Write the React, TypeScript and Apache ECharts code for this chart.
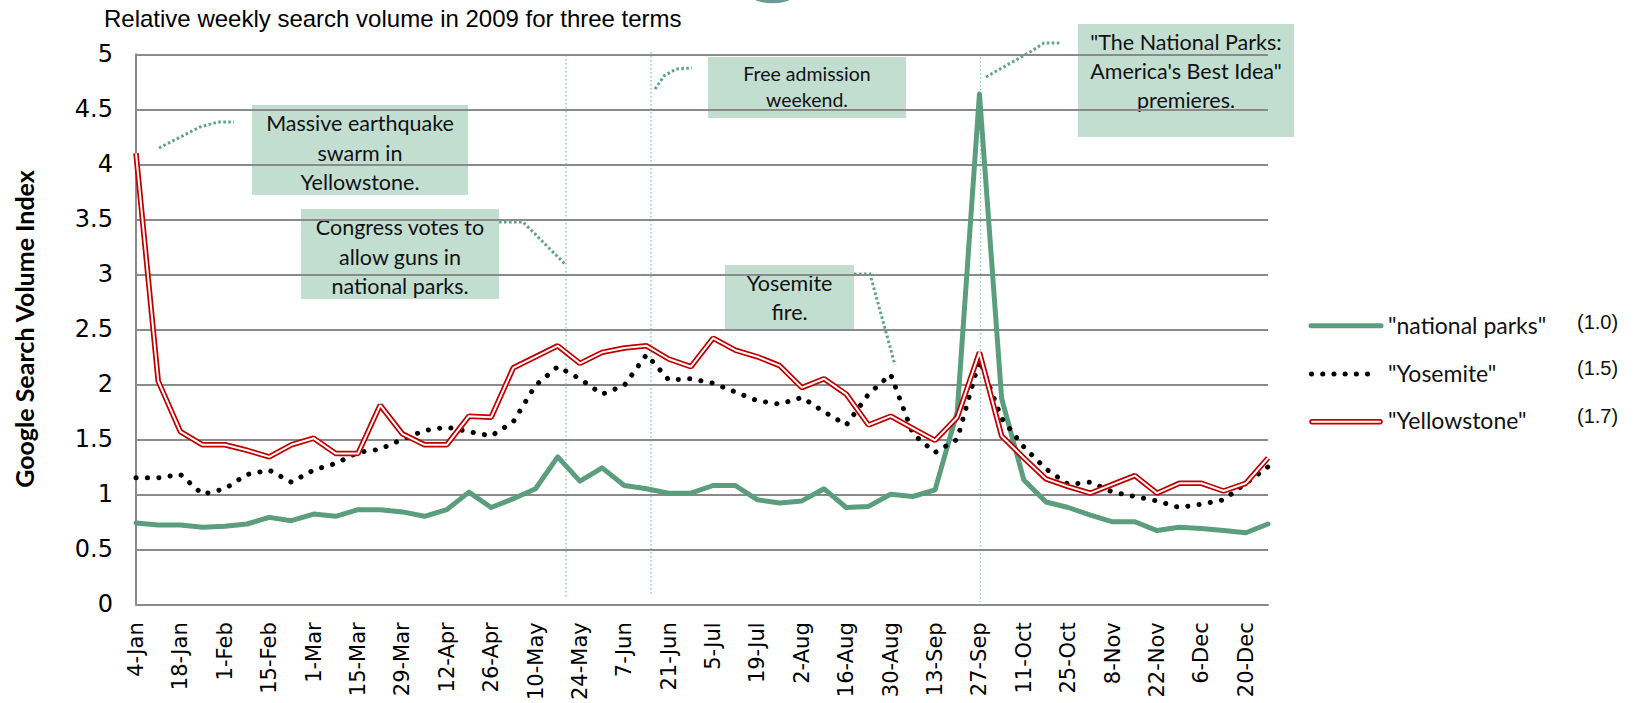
import React, { useEffect, useRef } from "react";
import * as echarts from "echarts";

const weeks = [
  "4-Jan", "11-Jan", "18-Jan", "25-Jan", "1-Feb", "8-Feb", "15-Feb", "22-Feb",
  "1-Mar", "8-Mar", "15-Mar", "22-Mar", "29-Mar", "5-Apr", "12-Apr", "19-Apr", "26-Apr",
  "3-May", "10-May", "17-May", "24-May", "31-May", "7-Jun", "14-Jun", "21-Jun", "28-Jun",
  "5-Jul", "12-Jul", "19-Jul", "26-Jul", "2-Aug", "9-Aug", "16-Aug", "23-Aug", "30-Aug",
  "6-Sep", "13-Sep", "20-Sep", "27-Sep", "4-Oct", "11-Oct", "18-Oct", "25-Oct",
  "1-Nov", "8-Nov", "15-Nov", "22-Nov", "29-Nov", "6-Dec", "13-Dec", "20-Dec", "27-Dec",
];

const nationalParks = [
  0.74, 0.72, 0.72, 0.70, 0.71, 0.73, 0.79, 0.76, 0.82, 0.80,
  0.86, 0.86, 0.84, 0.80, 0.86, 1.02, 0.88, 0.96, 1.05, 1.34,
  1.12, 1.24, 1.08, 1.05, 1.01, 1.01, 1.08, 1.08, 0.95, 0.92,
  0.94, 1.05, 0.88, 0.89, 1.00, 0.98, 1.04, 1.75, 4.64, 1.87,
  1.13, 0.93, 0.88, 0.81, 0.75, 0.75, 0.67, 0.70, 0.69, 0.67,
  0.65, 0.73,
];

const yosemite = [
  1.15, 1.15, 1.18, 1.00, 1.05, 1.18, 1.22, 1.11, 1.22, 1.28,
  1.38, 1.41, 1.50, 1.58, 1.61, 1.57, 1.53, 1.66, 1.99, 2.16,
  2.05, 1.91, 1.99, 2.27, 2.04, 2.05, 2.01, 1.93, 1.85, 1.82,
  1.88, 1.75, 1.63, 1.91, 2.09, 1.55, 1.38, 1.50, 2.22, 1.69,
  1.43, 1.23, 1.09, 1.11, 1.02, 0.98, 0.94, 0.88, 0.91, 0.95,
  1.10, 1.25,
];

const yellowstone = [
  4.10, 2.03, 1.57, 1.45, 1.45, 1.40, 1.34, 1.45, 1.51, 1.37,
  1.37, 1.81, 1.55, 1.45, 1.45, 1.71, 1.70, 2.15, 2.25, 2.35,
  2.19, 2.29, 2.33, 2.35, 2.23, 2.16, 2.42, 2.31, 2.25, 2.17,
  1.97, 2.05, 1.91, 1.63, 1.71, 1.60, 1.49, 1.70, 2.29, 1.53,
  1.33, 1.14, 1.07, 1.01, 1.09, 1.17, 1.01, 1.10, 1.10, 1.03,
  1.10, 1.33,
];

const seriesNames = ['"national parks"', '"Yosemite"', '"Yellowstone"'];
const seriesScales = ["(1.0)", "(1.5)", "(1.7)"];

const titleText = "Relative weekly search volume in 2009 for three terms";
const yAxisTitle = "Google Search Volume Index";

const GREEN = "#5b9e7e";
const RED = "#c00000";
const BOX = "rgba(178,214,196,0.8)";
const LEADER = "#5fa585";
const VLINE = "#93c9b3";
const GRID = "#8a8a8a";

const notes = [
  { lines: ["Massive earthquake", "swarm in", "Yellowstone."], box: [252, 105, 216, 90], cx: 360, cy: 152.5, lh: 29.5, fs: 21.5,
    leader: [[159, 148], [200, 127], [218, 122], [234, 122]] },
  { lines: ["Congress votes to", "allow guns in", "national parks."], box: [301, 209, 198, 90], cx: 400, cy: 256.5, lh: 29.5, fs: 21.5,
    leader: [[499, 222], [523, 222], [566, 265]] },
  { lines: ["Free admission", "weekend."], box: [708, 57, 198, 61], cx: 807, cy: 86, lh: 26, fs: 19.5,
    leader: [[655, 89], [664, 76], [676, 69], [692, 68]] },
  { lines: ['"The National Parks:', "America's Best Idea\"", "premieres."], box: [1078, 24, 216, 113], cx: 1186, cy: 71, lh: 29, fs: 21.5,
    leader: [[986, 77], [1030, 52], [1044, 43], [1060, 43]] },
  { lines: ["Yosemite", "fire."], box: [725, 265, 129, 64], cx: 789.5, cy: 297.5, lh: 29, fs: 21.5,
    leader: [[854, 274], [870, 274], [895, 365]] },
];

const vlines = [
  [566, 55, 598],
  [651, 52, 594],
  [980.5, 57, 602],
];

function buildGraphics() {
  const g: any[] = [];
  g.push({ type: "circle", shape: { cx: 772.5, cy: -44.7, r: 48 }, style: { fill: "#6b9b95" } });
  g.push({
    type: "text", x: 104, y: 18,
    style: { text: titleText, fill: "#000", fontFamily: "Liberation Sans", fontSize: 24, align: "left", verticalAlign: "middle" },
  });
  g.push({
    type: "text", x: 24, y: 329, rotation: Math.PI / 2,
    style: { text: yAxisTitle, fill: "#000", fontFamily: "Lato", fontWeight: "bold", fontSize: 25, align: "center", verticalAlign: "middle" },
  });
  vlines.forEach(([x, y1, y2]) => {
    g.push({ type: "line", shape: { x1: x, y1, x2: x, y2 }, style: { stroke: VLINE, lineWidth: 1.5, lineDash: [1.5, 2.5] } });
  });
  notes.forEach((n) => {
    g.push({ type: "rect", z: -1, shape: { x: n.box[0], y: n.box[1], width: n.box[2], height: n.box[3] }, style: { fill: BOX } });
    g.push({
      type: "text", x: n.cx, y: n.cy,
      style: { text: n.lines.join("\n"), fill: "#111", fontFamily: "Lato", fontSize: n.fs, lineHeight: n.lh, align: "center", verticalAlign: "middle" },
    });
    g.push({ type: "polyline", shape: { points: n.leader }, style: { stroke: LEADER, lineWidth: 3, lineDash: [2.6, 2.4], fill: null } });
  });
  // legend
  const ly = [325.7, 374, 421.7];
  const ty = [325, 373, 420];
  const sy = [321.7, 368, 416];
  g.push({ type: "line", shape: { x1: 1311, y1: ly[0], x2: 1381, y2: ly[0] }, style: { stroke: GREEN, lineWidth: 5, lineCap: "round" } });
  g.push({ type: "line", shape: { x1: 1311.5, y1: ly[1], x2: 1368.5, y2: ly[1] }, style: { stroke: "#000", lineWidth: 5, lineCap: "round", lineDash: [0.1, 11.1] } });
  g.push({ type: "line", shape: { x1: 1312, y1: ly[2], x2: 1380, y2: ly[2] }, style: { stroke: RED, lineWidth: 5.5, lineCap: "round" } });
  g.push({ type: "line", shape: { x1: 1312, y1: ly[2], x2: 1380, y2: ly[2] }, style: { stroke: "#fff", lineWidth: 2, lineCap: "round" } });
  seriesNames.forEach((name, i) => {
    g.push({ type: "text", x: 1388, y: ty[i], style: { text: name, fill: "#111", fontFamily: "Lato", fontSize: 23, align: "left", verticalAlign: "middle" } });
    g.push({ type: "text", x: 1577, y: sy[i], style: { text: seriesScales[i], fill: "#111", fontFamily: "Liberation Sans", fontSize: 20, align: "left", verticalAlign: "middle" } });
  });
  return g;
}

export default function App() {
  const ref = useRef<HTMLDivElement>(null);
  useEffect(() => {
    document.body.style.margin = "0";
    const chart = echarts.init(ref.current!, undefined, { renderer: "svg" });
    chart.setOption({
      animation: false,
      backgroundColor: "#fff",
      grid: { left: 136, right: 369, top: 54.3, bottom: 98.7, containLabel: false },
      xAxis: {
        type: "category",
        data: weeks,
        boundaryGap: false,
        axisLine: { show: true, lineStyle: { color: GRID, width: 2 } },
        axisTick: { show: false },
        splitLine: { show: false },
        axisLabel: { interval: 1, rotate: 90, fontFamily: "DejaVu Sans", fontSize: 21, color: "#000", margin: 18 },
      },
      yAxis: {
        type: "value",
        min: 0,
        max: 5,
        interval: 0.5,
        axisLine: { show: true, lineStyle: { color: GRID, width: 2 } },
        axisTick: { show: false },
        splitLine: { show: true, lineStyle: { color: GRID, width: 2 } },
        axisLabel: { fontFamily: "DejaVu Sans", fontSize: 24, color: "#000", margin: 23 },
      },
      series: [
        {
          name: seriesNames[0], type: "line", data: nationalParks, symbol: "none", z: 2,
          lineStyle: { color: GREEN, width: 5, cap: "round", join: "round" },
        },
        {
          name: seriesNames[1], type: "line", data: yosemite, symbol: "none", z: 3,
          lineStyle: { color: "#000", width: 5, type: [0.1, 11.3], cap: "round", join: "round" },
        },
        {
          name: seriesNames[2], type: "line", data: yellowstone, symbol: "none", z: 4,
          lineStyle: { color: RED, width: 5.5 },
        },
        {
          name: seriesNames[2] + " inner", type: "line", data: yellowstone, symbol: "none", z: 5, silent: true,
          lineStyle: { color: "#fff", width: 2 },
        },
      ],
      graphic: buildGraphics(),
    });
    return () => chart.dispose();
  }, []);
  return <div ref={ref} style={{ width: 1637, height: 703 }} />;
}
